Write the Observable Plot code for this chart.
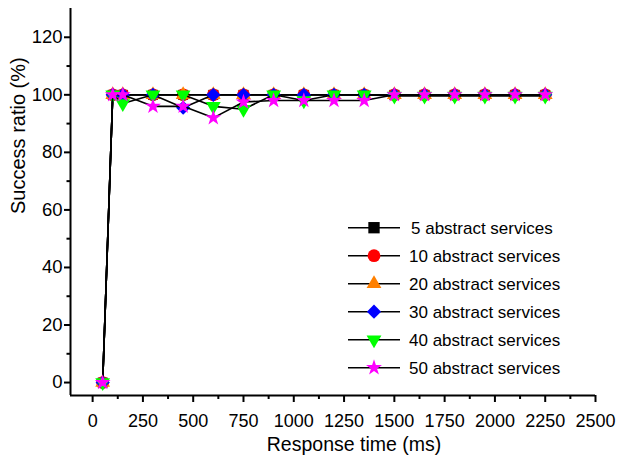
<!DOCTYPE html>
<html>
<head>
<meta charset="utf-8">
<script src="https://cdn.jsdelivr.net/npm/d3@7"></script>
<script src="https://cdn.jsdelivr.net/npm/@observablehq/plot@0.6"></script>
<style>
  html, body { margin: 0; padding: 0; background: #fff; }
  #wrap { position: relative; width: 624px; height: 460px; font-family: "Liberation Sans", Arial, sans-serif; }
  #legend { position: absolute; left: 0; top: 0; pointer-events: none; }
</style>
</head>
<body>
<div id="wrap"></div>
<script>
// ---- data ----
const times = [50, 100, 150, 300, 450, 600, 750, 900, 1050, 1200, 1350, 1500, 1650, 1800, 1950, 2100, 2250];
const seriesNames = ["5 abstract services", "10 abstract services", "20 abstract services", "30 abstract services", "40 abstract services", "50 abstract services"];
const s5  = [0, 100, 100, 100, 100, 100, 100, 100, 100, 100, 100, 100, 100, 100, 100, 100, 100];
const s10 = [0, 100, 100, 100, 100, 100, 100, 100, 100, 100, 100, 100, 100, 100, 100, 100, 100];
const s20 = [0, 100, 100, 100, 100, 100, 100, 100, 100, 100, 100, 100, 100, 100, 100, 100, 100];
const s30 = [0, 100, 100, 100, 95.5, 100, 100, 100, 100, 100, 100, 100, 100, 100, 100, 100, 100];
const s40 = [0, 100, 97, 100, 100, 96, 95, 100, 98, 100, 100, 99.6, 99.6, 99.6, 99.6, 99.6, 99.6];
const s50 = [0, 100, 100, 96, 96, 92, 97.5, 98, 98, 98, 98, 100, 100, 100, 100, 100, 100];
const seriesValues = [s5, s10, s20, s30, s40, s50];
const xTicks = [0, 250, 500, 750, 1000, 1250, 1500, 1750, 2000, 2250, 2500];
const xMinorTicks = [125, 375, 625, 875, 1125, 1375, 1625, 1875, 2125, 2375];
const yTicks = [0, 20, 40, 60, 80, 100, 120];
const yMinorTicks = [10, 30, 50, 70, 90, 110];
const xTitle = "Response time (ms)";
const yTitle = "Success ratio (%)";

// ---- styles ----
const colors = ["#000000", "#ff0000", "#ff8000", "#0000ff", "#00ff00", "#ff00ff"];
const triangleDown = {
  draw(context, size) {
    const y = Math.sqrt(size / (3 * Math.sqrt(3)));
    context.moveTo(0, 2 * y);
    context.lineTo(-Math.sqrt(3) * y, -y);
    context.lineTo(Math.sqrt(3) * y, -y);
    context.closePath();
  }
};
const symbols = [d3.symbolSquare, d3.symbolCircle, d3.symbolTriangle, d3.symbolDiamond2, triangleDown, d3.symbolStar];
const radii = [5.6, 6.4, 5.5, 6.4, 5.5, 5.0];
const legendRadii = [6.4, 6.4, 5.5, 6.4, 5.5, 5.0];

const font = '"Liberation Sans", Arial, sans-serif';
const xDomain = [-110, 2500];
const yDomain = [-4.5, 130];

const rows = [];
seriesValues.forEach((vals, si) => {
  vals.forEach((v, i) => rows.push({series: seriesNames[si], si, t: times[i], v}));
});

const marks = [];
seriesNames.forEach((name, si) => {
  const d = rows.filter(r => r.si === si);
  marks.push(Plot.line(d, {x: "t", y: "v", stroke: "black", strokeWidth: 1.6}));
  marks.push(Plot.dot(d, {x: "t", y: "v", symbol: symbols[si], r: radii[si], fill: colors[si], stroke: "none"}));
});

const chart = Plot.plot({
  width: 624,
  height: 460,
  marginLeft: 70,
  marginRight: 29,
  marginTop: 8,
  marginBottom: 65,
  style: {fontFamily: font, background: "white", color: "black", overflow: "visible"},
  x: {domain: xDomain},
  y: {domain: yDomain},
  marks: [
    Plot.ruleX([xDomain[0]], {stroke: "black", strokeWidth: 2}),
    Plot.ruleY([yDomain[0]], {stroke: "black", strokeWidth: 2}),
    Plot.axisX(xTicks, {tickSize: 7, tickPadding: 12, fontSize: 18, strokeWidth: 2, label: null, tickFormat: d => String(d)}),
    Plot.axisX(xMinorTicks, {tickSize: 4, strokeWidth: 2, label: null, tickFormat: () => ""}),
    Plot.axisY(yTicks, {tickSize: 6, tickPadding: 2, fontSize: 18.5, strokeWidth: 2, label: null, tickFormat: d => String(d)}),
    Plot.axisY(yMinorTicks, {tickSize: 3.5, strokeWidth: 2, label: null, tickFormat: () => ""}),
    Plot.text([xTitle], {frameAnchor: "bottom", dy: 55, dx: 21, fontSize: 19.5, fill: "black"}),
    Plot.text([yTitle], {frameAnchor: "left", dx: -52, dy: 12, rotate: -90, fontSize: 20, fill: "black"}),
    ...marks
  ]
});
const wrap = document.getElementById("wrap");
wrap.appendChild(chart);

// ---- legend overlay ----
const leg = d3.select(wrap).append("svg")
  .attr("id", "legend").attr("width", 624).attr("height", 460);
const row0 = 227.7, rowStep = 28;
seriesNames.forEach((name, i) => {
  const g = leg.append("g").attr("transform", `translate(0,${row0 + i * rowStep})`);
  g.append("line").attr("x1", 348).attr("x2", 400).attr("y1", 0).attr("y2", 0)
    .attr("stroke", "black").attr("stroke-width", 1.6);
  g.append("path").attr("transform", "translate(374,0)")
    .attr("d", d3.symbol(symbols[i], legendRadii[i] * legendRadii[i] * Math.PI)())
    .attr("fill", colors[i]);
  g.append("text").attr("x", i === 0 ? 411 : 409).attr("y", 0).attr("dy", "0.35em")
    .attr("font-family", font).attr("font-size", 17).attr("fill", "black").text(name);
});
</script>
</body>
</html>
